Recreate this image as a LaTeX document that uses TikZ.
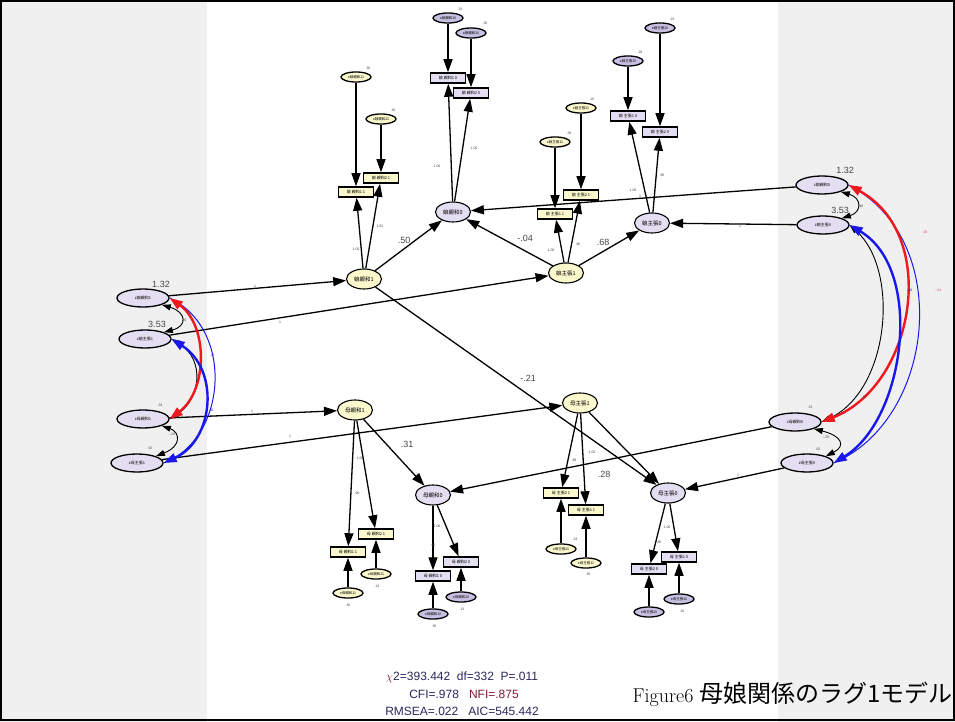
\documentclass[tikz,border=0pt]{standalone}
\usepackage{fontspec}
\newfontfamily\jpfont{Noto Sans CJK JP}
\newfontfamily\statfont{Liberation Sans}
\usetikzlibrary{%
	arrows.meta,%
	shapes.geometric,%
}
\definecolor{cyellowlight}{RGB}{250, 248, 204}
\definecolor{cpurplelight}{RGB}{228, 222, 242}
\definecolor{cpurpledark}{RGB}{200, 192, 226}
\definecolor{cpanel}{RGB}{240, 240, 240}
\definecolor{cred}{RGB}{238, 24, 30}
\definecolor{cblue}{RGB}{24, 24, 236}
\definecolor{cpink}{RGB}{230, 60, 140}
\definecolor{cmaroon}{RGB}{130, 24, 52}
\definecolor{cnavy}{RGB}{40, 40, 92}
\definecolor{ctext}{RGB}{70, 70, 70}
\tikzset{
	>=Triangle,%
	latone/.style={%
			ellipse,%
			draw,%
			line width=1.1pt,%
			fill=cyellowlight,%
			minimum width=35pt,%
			minimum height=20pt,%
			inner sep=0pt,%
			font=\jpfont\fontsize{5.5}{6}\selectfont},%
	latzero/.style={latone, fill=cpurplelight},%
	obsone/.style={%
			rectangle,%
			draw,%
			line width=1.5pt,%
			fill=cyellowlight,%
			minimum width=35pt,%
			minimum height=10pt,%
			inner sep=0pt,%
			font=\jpfont\fontsize{4}{4}\selectfont},%
	obszero/.style={obsone, fill=cpurplelight},%
	errone/.style={%
			ellipse,%
			draw,%
			line width=1.3pt,%
			fill=cyellowlight,%
			minimum width=30pt,%
			minimum height=10pt,%
			inner sep=0pt,%
			font=\jpfont\fontsize{3.5}{4}\selectfont},%
	errzero/.style={errone, fill=cpurpledark},%
	dist/.style={%
			ellipse,%
			draw,%
			line width=1.3pt,%
			fill=cpurplelight,%
			minimum width=52pt,%
			minimum height=18pt,%
			inner sep=0pt,%
			font=\jpfont\fontsize{4}{5}\selectfont},%
	arr/.style={-{Triangle[length=13pt,width=9pt]}, line width=1.3pt},%
	covblack/.style={{Triangle[length=9pt,width=6pt]}-{Triangle[length=9pt,width=6pt]}, line width=0.9pt},%
	covred/.style={{Triangle[length=13pt,width=9pt]}-{Triangle[length=13pt,width=9pt]}, line width=2.4pt, cred},%
	covblue/.style={{Triangle[length=13pt,width=9pt]}-{Triangle[length=13pt,width=9pt]}, line width=2.4pt, cblue},%
	covthin/.style={line width=1pt, cblue},%
	coef/.style={font=\statfont\fontsize{3.5}{4}\selectfont, text=ctext, inner sep=0pt},%
	bigcoef/.style={font=\statfont\fontsize{9}{10}\selectfont, text=ctext, inner sep=0pt},%
	stat/.style={font=\statfont\fontsize{12}{13}\selectfont, inner sep=0pt},%
}

\begin{document}
\begin{tikzpicture}[x=1pt, y=-1pt]
	\useasboundingbox (0,0) rectangle (955,722);
	\fill[cpanel] (0,0) rectangle (207,722);
	\fill[cpanel] (778,0) rectangle (955,722);
	\draw[line width=1.5pt] (1,1) rectangle (954,720);

	% daughter, lag 1
	\node[latone] (dk1) at (364,279) {娘親和1};
	\node[obsone] (dk1a) at (356,192) {娘 親和1 1};
	\node[obsone] (dk1b) at (381,178) {娘 親和2 1};
	\node[errone] (edk1a) at (356,77) {e娘親和11};
	\node[errone] (edk1b) at (381,119) {e娘親和21};

	\node[latone] (da1) at (566,273) {娘主張1};
	\node[obsone] (da1a) at (555,214) {娘 主張1 1};
	\node[obsone] (da1b) at (581,195) {娘 主張2 1};
	\node[errone] (eda1a) at (555,142) {e娘主張11};
	\node[errone] (eda1b) at (581,108) {e娘主張21};

	% daughter, lag 0
	\node[latzero] (dk0) at (453,212) {娘親和0};
	\node[obszero] (dk0a) at (448,78) {娘 親和1 0};
	\node[obszero] (dk0b) at (471,93) {娘 親和2 0};
	\node[errzero] (edk0a) at (448,18) {e娘親和10};
	\node[errzero] (edk0b) at (471,33) {e娘親和20};

	\node[latzero] (da0) at (652,223) {娘主張0};
	\node[obszero] (da0a) at (628,116) {娘 主張1 0};
	\node[obszero] (da0b) at (660,132) {娘 主張2 0};
	\node[errzero] (eda0a) at (628,61) {e娘主張10};
	\node[errzero] (eda0b) at (660,28) {e娘主張20};

	% mother, lag 1
	\node[latone] (mk1) at (355,410) {母親和1};
	\node[obsone] (mk1a) at (348,552) {母 親和1 1};
	\node[obsone] (mk1b) at (376,534) {母 親和2 1};
	\node[errone] (emk1a) at (348,593) {e母親和11};
	\node[errone] (emk1b) at (376,574) {e母親和21};

	\node[latone] (ma1) at (580,403) {母主張1};
	\node[obsone] (ma1a) at (561,493) {母 主張2 1};
	\node[obsone] (ma1b) at (586,510) {母 主張1 1};
	\node[errone] (ema1a) at (561,549) {e母主張21};
	\node[errone] (ema1b) at (586,563) {e母主張11};

	% mother, lag 0
	\node[latzero] (mk0) at (433,495) {母親和0};
	\node[obszero] (mk0a) at (433,576) {母 親和1 0};
	\node[obszero] (mk0b) at (461,562) {母 親和2 0};
	\node[errzero] (emk0a) at (433,614) {e母親和10};
	\node[errzero] (emk0b) at (461,597) {e母親和20};

	\node[latzero] (ma0) at (668,493) {母主張0};
	\node[obszero] (ma0a) at (649,569) {母 主張2 0};
	\node[obszero] (ma0b) at (679,557) {母 主張1 0};
	\node[errzero] (ema0a) at (649,612) {e母主張20};
	\node[errzero] (ema0b) at (679,599) {e母主張10};

	% disturbances
	\node[dist] (zdk1) at (143,298) {z娘親和1};
	\node[dist] (zda1) at (145,339) {z娘主張1};
	\node[dist] (zmk1) at (143,419) {z母親和1};
	\node[dist] (zma1) at (137,463) {z母主張1};
	\node[dist] (zdk0) at (822,185) {z娘親和0};
	\node[dist] (zda0) at (823,225) {z娘主張0};
	\node[dist] (zmk0) at (795,422) {z母親和0};
	\node[dist] (zma0) at (807,463) {z母主張0};

	% measurement arrows
	\foreach \lat/\ind in {dk1/dk1a, dk1/dk1b, da1/da1a, da1/da1b, dk0/dk0a, dk0/dk0b, da0/da0a, da0/da0b,%
			mk1/mk1a, mk1/mk1b, ma1/ma1a, ma1/ma1b, mk0/mk0a, mk0/mk0b, ma0/ma0a, ma0/ma0b} {
			\draw[arr] (\lat) to (\ind);
			\draw[arr] (e\ind) to (\ind);
		}

	% structural arrows
	\draw[arr] (zdk1) to (dk1);
	\draw[arr] (zda1) to (da1);
	\draw[arr] (zmk1) to (mk1);
	\draw[arr] (zma1) to (ma1);
	\draw[arr] (zdk0) to (dk0);
	\draw[arr] (zda0) to (da0);
	\draw[arr] (zmk0) to (mk0);
	\draw[arr] (zma0) to (ma0);
	\draw[arr] (dk1) to (dk0);
	\draw[arr] (da1) to (dk0);
	\draw[arr] (da1) to (da0);
	\draw[arr] (dk1) to (ma0);
	\draw[arr] (mk1) to (mk0);
	\draw[arr] (ma1) to (ma0);

	% covariances, left
	\draw[covthin] (zdk1.east) .. controls (236,330) and (226,440) .. (zma1.east);
	\draw[covblack] (zda1.east) .. controls (206,360) and (200,400) .. (zmk1.east);
	\draw[covred] (zdk1.east) .. controls (208,325) and (208,390) .. (zmk1.east);
	\draw[covblue] (zda1.east) .. controls (220,370) and (214,440) .. (zma1.east);
	\draw[covblack] (zdk1.south east) .. controls (186,312) and (188,326) .. (zda1.north east);
	\draw[covblack] (zmk1.south east) .. controls (180,432) and (182,446) .. (zma1.north east);

	% covariances, right
	\draw[covthin] (zdk0.east) .. controls (955,240) and (935,420) .. (zma0.east);
	\draw[covblack] (zda0.east) .. controls (900,270) and (890,390) .. (zmk0.east);
	\draw[covred] (zdk0.east) .. controls (940,235) and (915,385) .. (zmk0.east);
	\draw[covblue] (zda0.east) .. controls (925,270) and (905,420) .. (zma0.east);
	\draw[covblack] (zdk0.south east) .. controls (862,198) and (862,212) .. (zda0.north east);
	\draw[covblack] (zmk0.south east) .. controls (842,436) and (846,446) .. (zma0.north east);

	% coefficients
	\node[bigcoef] (c50) at (404,240) {.50};
	\node[bigcoef] (c04) at (525,238) {-.04};
	\node[bigcoef] (c68) at (603,242) {.68};
	\node[bigcoef] (c21) at (528,378) {-.21};
	\node[bigcoef] (c31) at (407,444) {.31};
	\node[bigcoef] (c28) at (604,474) {.28};
	\node[bigcoef] (vdk1) at (161,284) {1.32};
	\node[bigcoef] (vda1) at (157,324) {3.53};
	\node[bigcoef] (vdk0) at (845,170) {1.32};
	\node[bigcoef] (vda0) at (840,210) {3.53};
	\node[coef] (vmk1) at (160,405) {.33};
	\node[coef] (vma1) at (150,448) {.62};
	\node[coef] (vmk0) at (810,407) {.33};
	\node[coef] (vma0) at (818,449) {.62};

	% loadings and fixed paths
	\node[coef] (l1) at (356,249) {1.00};
	\node[coef] (l2) at (380,226) {1.81};
	\node[coef] (l3) at (437,166) {1.00};
	\node[coef] (l4) at (474,148) {1.00};
	\node[coef] (l5) at (551,250) {1.00};
	\node[coef] (l6) at (578,244) {.86};
	\node[coef] (l7) at (633,190) {1.00};
	\node[coef] (l8) at (662,175) {.86};
	\node[coef] (l9) at (360,458) {1.00};
	\node[coef] (l10) at (357,493) {.96};
	\node[coef] (l11) at (437,526) {1.00};
	\node[coef] (l12) at (433,545) {.96};
	\node[coef] (l13) at (574,460) {.89};
	\node[coef] (l14) at (592,452) {1.00};
	\node[coef] (l15) at (667,527) {1.00};
	\node[coef] (l16) at (659,542) {.86};
	\node[coef] (f1) at (255,286) {1};
	\node[coef] (f2) at (280,322) {1};
	\node[coef] (f3) at (252,411) {1};
	\node[coef] (f4) at (290,436) {1};
	\node[coef] (f5) at (640,196) {1};
	\node[coef] (f6) at (740,226) {1};
	\node[coef] (f7) at (620,444) {1};
	\node[coef] (f8) at (738,475) {1};

	% error variances
	\node[coef] (e1) at (368,68) {.36};
	\node[coef] (e2) at (393,110) {.30};
	\node[coef] (e3) at (460,9) {.33};
	\node[coef] (e4) at (485,23) {.30};
	\node[coef] (e5) at (569,133) {.28};
	\node[coef] (e6) at (592,99) {.25};
	\node[coef] (e7) at (640,52) {.28};
	\node[coef] (e8) at (672,19) {.23};
	\node[coef] (e9) at (348,605) {.36};
	\node[coef] (e10) at (377,586) {.13};
	\node[coef] (e11) at (434,626) {.36};
	\node[coef] (e12) at (462,609) {.13};
	\node[coef] (e13) at (575,539) {.23};
	\node[coef] (e14) at (588,574) {.30};
	\node[coef] (e15) at (682,611) {.30};

	% covariance labels
	\node[coef] (k1) at (184,320) {.46};
	\node[coef] (k2) at (172,434) {-.20};
	\node[coef, text=cpink] (k3) at (212,355) {.13};
	\node[coef, text=cblue] (k4) at (211,410) {.40};
	\node[coef] (k5) at (861,206) {.46};
	\node[coef] (k6) at (826,437) {-.20};
	\node[coef, text=cpink] (k7) at (925,232) {.09};
	\node[coef, text=cblue] (k8) at (910,290) {.40};
	\node[coef, text=cpink] (k9) at (938,290) {-.34};
	\node[coef] (k10) at (864,397) {.46};

	% fit indices and caption
	\node[stat, text=cnavy] (chi) at (462,677) {\textcolor{cmaroon}{$\chi$}2=393.442\ \ df=332\ \ P=.011};
	\node[stat, text=cnavy] (cfi) at (464,694) {CFI=.978\ \ \ \textcolor{cmaroon}{NFI=.875}};
	\node[stat, text=cnavy] (rmsea) at (462,711) {RMSEA=.022\ \ \ AIC=545.442};
	\node[anchor=east, inner sep=0pt, font=\fontsize{20}{22}\selectfont] (cap) at (953,694) {Figure6 {\jpfont\fontsize{24}{25}\selectfont 母娘関係のラグ1モデル}};
\end{tikzpicture}
\end{document}
